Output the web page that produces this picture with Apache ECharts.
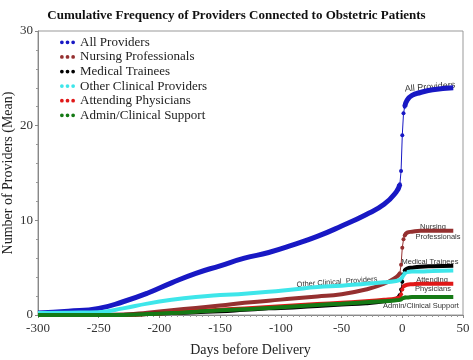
<!DOCTYPE html>
<html>
<head>
<meta charset="utf-8">
<script src="https://cdn.jsdelivr.net/npm/echarts@6/dist/echarts.min.js"></script>
<style>
  html, body { margin: 0; padding: 0; background: #fff; }
  #chart { width: 473px; height: 360px; }
</style>
</head>
<body>
<div id="chart"></div>
<script>
// days relative to delivery, shared by every series
const days = [-300, -275, -250, -230, -210, -190, -170, -150, -130, -110, -90, -70, -50, -30, -15, -5, -2, -1, 0, 1, 2, 4, 8, 15, 25, 42]

const allProviders = [0.2, 0.4, 0.7, 1.4, 2.3, 3.4, 4.4, 5.2, 6.0, 6.6, 7.4, 8.3, 9.4, 10.6, 11.7, 13.0, 13.8, 15.2, 19.0, 21.3, 22.0, 22.7, 23.2, 23.5, 23.8, 24.0]
const nursing = [0, 0, 0, 0.05, 0.25, 0.5, 0.75, 1.0, 1.3, 1.5, 1.75, 1.95, 2.2, 2.7, 3.3, 4.0, 4.4, 5.3, 7.1, 8.0, 8.4, 8.7, 8.8, 8.9, 8.9, 8.9]
const trainees = [0, 0, 0, 0, 0.1, 0.2, 0.3, 0.4, 0.55, 0.7, 0.8, 0.95, 1.1, 1.25, 1.45, 1.7, 2.1, 2.7, 3.5, 4.3, 4.7, 4.9, 5.0, 5.1, 5.15, 5.2]
const otherClinical = [0.2, 0.25, 0.3, 0.7, 1.2, 1.6, 1.9, 2.1, 2.25, 2.45, 2.7, 2.95, 3.1, 3.3, 3.45, 3.6, 3.7, 3.85, 4.0, 4.2, 4.4, 4.55, 4.6, 4.6, 4.65, 4.7]
const attending = [0, 0, 0, 0, 0.1, 0.25, 0.4, 0.55, 0.7, 0.85, 1.0, 1.15, 1.3, 1.45, 1.6, 1.75, 1.9, 2.2, 2.7, 3.0, 3.1, 3.2, 3.25, 3.3, 3.3, 3.3]
const admin = [0, 0, 0, 0, 0.1, 0.2, 0.35, 0.5, 0.6, 0.75, 0.9, 1.05, 1.2, 1.35, 1.45, 1.55, 1.6, 1.65, 1.75, 1.8, 1.85, 1.85, 1.9, 1.9, 1.9, 1.9]

const xTicks = [-300, -250, -200, -150, -100, -50, 0, 50]
const yTicks = [0, 10, 20, 30]

const groups = [
  { name: 'All Providers', values: allProviders, color: '#1818c4', width: 5 },
  { name: 'Nursing Professionals', values: nursing, color: '#953030', width: 4 },
  { name: 'Medical Trainees', values: trainees, color: '#000000', width: 4 },
  { name: 'Other Clinical Providers', values: otherClinical, color: '#3ee6ea', width: 4 },
  { name: 'Attending Physicians', values: attending, color: '#e01818', width: 4 },
  { name: 'Admin/Clinical Support', values: admin, color: '#157a15', width: 4 },
]

// the jump around delivery is drawn thin with dots, the rest thick
const jumpStart = days.indexOf(-2)
const jumpEnd = days.indexOf(2)

const pairs = (values, from, to) =>
  days.slice(from, to + 1).map((d, i) => [d, values[from + i]])

const series = []
groups.forEach((g) => {
  series.push({
    name: g.name, type: 'line', data: pairs(g.values, 0, jumpStart),
    smooth: 0.5, showSymbol: false,
    lineStyle: { color: g.color, width: g.width }, itemStyle: { color: g.color },
  })
  series.push({
    name: g.name, type: 'line', data: pairs(g.values, jumpStart, jumpEnd),
    symbol: 'circle', symbolSize: 4, showSymbol: true,
    lineStyle: { color: g.color, width: 1 }, itemStyle: { color: g.color },
  })
  series.push({
    name: g.name, type: 'line', data: pairs(g.values, jumpEnd, days.length - 1),
    smooth: 0.5, showSymbol: false,
    lineStyle: { color: g.color, width: g.width }, itemStyle: { color: g.color },
  })
})

const dots = 'path://M0,2a2,2 0 1,0 4,0a2,2 0 1,0 -4,0M6,2a2,2 0 1,0 4,0a2,2 0 1,0 -4,0M12,2a2,2 0 1,0 4,0a2,2 0 1,0 -4,0'

const note = (text, x, y, size, rotation) => ({
  type: 'text', x, y, rotation: rotation || 0,
  style: {
    text, fill: '#333', fontSize: size, fontFamily: 'Liberation Sans',
    align: 'center', verticalAlign: 'middle',
  },
})

const chart = echarts.init(document.getElementById('chart'))
chart.setOption({
  animation: false,
  title: {
    text: 'Cumulative Frequency of Providers Connected to Obstetric Patients',
    left: 'center', top: 4,
    textStyle: { fontFamily: 'Liberation Serif', fontWeight: 'bold', fontSize: 13, color: '#111' },
  },
  legend: {
    orient: 'vertical', left: 55, top: 30, itemGap: 0,
    itemWidth: 15, itemHeight: 4, icon: dots,
    textStyle: { fontFamily: 'Liberation Serif', fontSize: 13, color: '#222', lineHeight: 14.6 },
    data: groups.map((g) => g.name),
  },
  grid: {
    left: 38, right: 10, top: 31, bottom: 45, outerBoundsMode: 'none',
    show: true, borderColor: '#999', borderWidth: 1,
  },
  xAxis: {
    type: 'value', min: -300, max: 50, interval: 50,
    name: 'Days before Delivery', nameLocation: 'middle', nameGap: 28, nameMoveOverlap: false,
    nameTextStyle: { fontFamily: 'Liberation Serif', fontSize: 14, color: '#222' },
    axisLine: { lineStyle: { color: '#888' } },
    axisTick: { show: true, length: 3, lineStyle: { color: '#888' } },
    minorTick: { show: true, splitNumber: 10, length: 2, lineStyle: { color: '#999' } },
    splitLine: { show: false },
    axisLabel: {
      fontFamily: 'Liberation Serif', fontSize: 13, color: '#333', margin: 7,
      formatter: (v) => (xTicks.includes(v) ? String(v) : ''),
    },
  },
  yAxis: {
    type: 'value', min: 0, max: 30, interval: 10,
    name: 'Number of Providers (Mean)', nameLocation: 'middle', nameGap: 23, nameMoveOverlap: false,
    nameTextStyle: { fontFamily: 'Liberation Serif', fontSize: 14, color: '#222' },
    axisLine: { show: true, onZero: false, lineStyle: { color: '#888' } },
    axisTick: { show: true, length: 3, lineStyle: { color: '#888' } },
    minorTick: { show: true, splitNumber: 5, length: 2, lineStyle: { color: '#999' } },
    splitLine: { show: false },
    axisLabel: {
      fontFamily: 'Liberation Serif', fontSize: 13, color: '#333', margin: 5,
      formatter: (v) => (yTicks.includes(v) ? String(v) : ''),
    },
  },
  series,
  graphic: [
    note('All Providers', 430, 87, 9, 0.08),
    note('Nursing', 433, 227, 7.5),
    note('Professionals', 438, 237, 7.5),
    note('Medical Trainees', 430, 262, 7.5),
    note('Attending', 432, 280, 7.5),
    note('Physicians', 433, 289, 7.5),
    note('Admin/Clinical Support', 421, 306, 7.5),
    note('Other Clinical  Providers', 337, 282, 7.5, 0.07),
  ],
})
</script>
</body>
</html>
